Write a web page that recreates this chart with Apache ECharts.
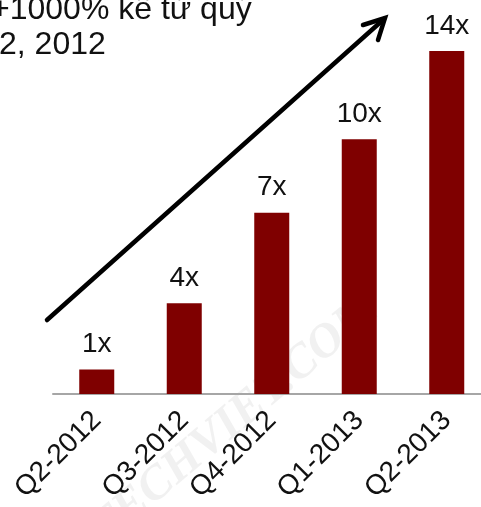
<!DOCTYPE html>
<html>
<head>
<meta charset="utf-8">
<script src="https://cdn.jsdelivr.net/npm/echarts@6/dist/echarts.min.js"></script>
<style>
html,body{margin:0;padding:0;background:#fff;}
#chart{width:481px;height:507px;}
</style>
</head>
<body>
<div id="chart"></div>
<script>
// Data
var categories = ['Q2-2012', 'Q3-2012', 'Q4-2012', 'Q1-2013', 'Q2-2013'];
var values = [1, 3.7, 7.4, 10.4, 14];
var valueLabels = ['1x', '4x', '7x', '10x', '14x'];
var titleLines = ['+1000% kể từ quý', '2, 2012'];
var watermark = 'TECHVIET.COM';

var FONT = '"Liberation Sans", Arial, sans-serif';
var chart = echarts.init(document.getElementById('chart'), null, {renderer: 'canvas'});

chart.setOption({
  backgroundColor: '#ffffff',
  animation: false,
  grid: {left: 53, width: 437.5, top: 26.5, height: 367.5, containLabel: false, outerBoundsMode: 'none'},
  xAxis: {
    type: 'category',
    data: categories,
    axisLine: {show: true, lineStyle: {color: '#a6a6a6', width: 2}},
    axisTick: {show: false},
    axisLabel: {
      rotate: 45,
      interval: 0,
      margin: 22,
      fontSize: 28,
      fontFamily: FONT,
      color: '#111111'
    },
    splitLine: {show: false}
  },
  yAxis: {
    type: 'value',
    min: 0,
    max: 15,
    show: false,
    splitLine: {show: false}
  },
  series: [{
    type: 'bar',
    data: values,
    barWidth: 35,
    itemStyle: {color: '#7f0000'},
    label: {
      show: true,
      position: 'top',
      distance: 11,
      fontSize: 28,
      fontFamily: FONT,
      color: '#111111',
      formatter: function (p) { return valueLabels[p.dataIndex]; }
    },
    z: 3
  }],
  graphic: [
    {
      type: 'text',
      x: 235, y: 420,
      rotation: 40 * Math.PI / 180,
      z: 0,
      silent: true,
      style: {
        text: watermark,
        font: 'italic bold 48px "Liberation Serif", serif',
        fill: 'rgba(190,190,190,0.22)',
        align: 'center',
        verticalAlign: 'middle'
      }
    },
    {
      type: 'text',
      x: -9, y: 10,
      style: {
        text: titleLines[0],
        font: '32px ' + FONT,
        fill: '#111111',
        align: 'left',
        verticalAlign: 'middle'
      }
    },
    {
      type: 'text',
      x: -1, y: 45,
      style: {
        text: titleLines[1],
        font: '32px ' + FONT,
        fill: '#111111',
        align: 'left',
        verticalAlign: 'middle'
      }
    },
    {
      type: 'polyline',
      shape: {points: [[47, 320], [384, 19]]},
      style: {stroke: '#000000', lineWidth: 4.5, fill: null, lineCap: 'round'}
    },
    {
      type: 'polyline',
      shape: {points: [[363, 25], [385, 18], [378, 40]]},
      style: {stroke: '#000000', lineWidth: 4.5, fill: null, lineCap: 'round', lineJoin: 'miter'}
    }
  ]
});
</script>
</body>
</html>
